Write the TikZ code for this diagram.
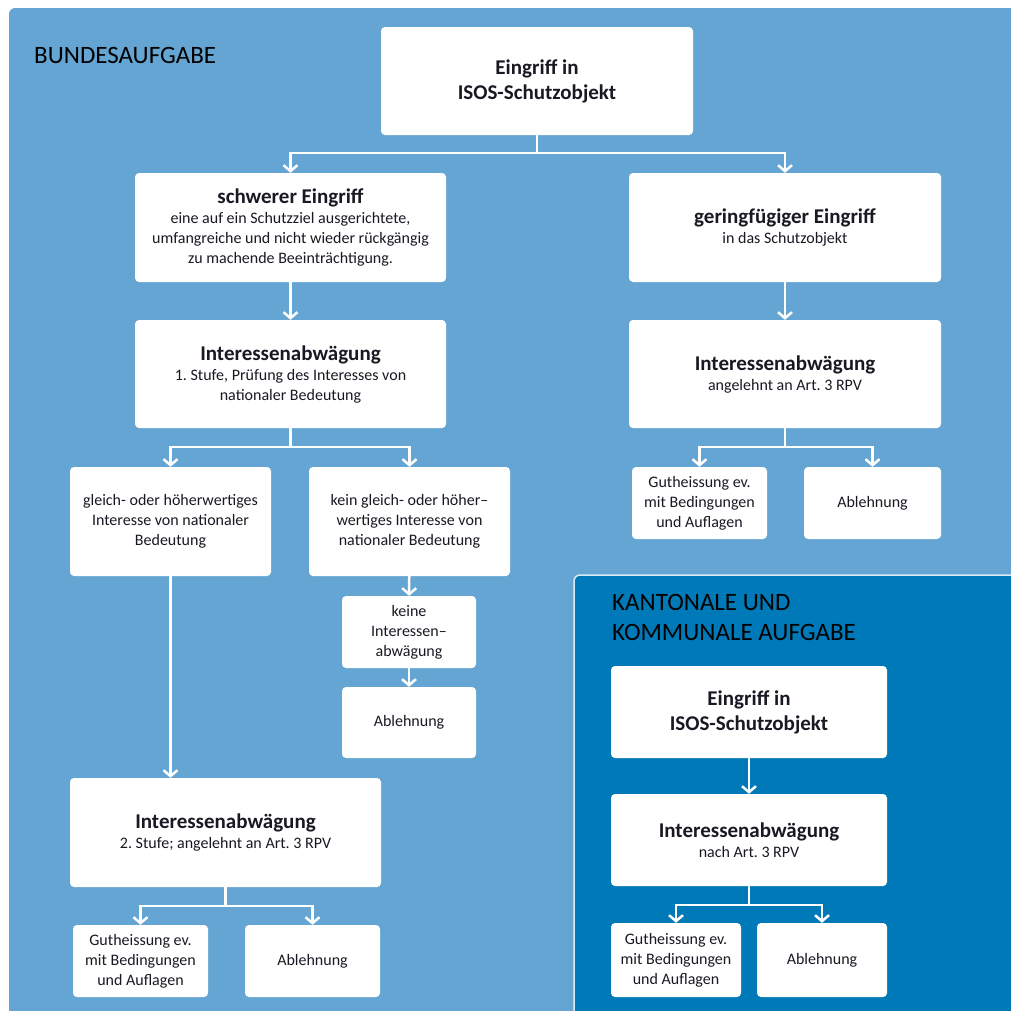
\documentclass[tikz,border=0pt]{standalone}
\usepackage{fontspec}
\setmainfont{Carlito}
\usetikzlibrary{arrows.meta}
\frenchspacing

\definecolor{bundblau}{RGB}{101,165,211}
\definecolor{kantonblau}{RGB}{0,121,184}
\definecolor{schrift}{RGB}{25,25,35}

\newcommand{\kopf}[1]{{\fontsize{21}{22}\selectfont\bfseries #1}}

\tikzset{
  box/.style={fill=white, rounded corners=4pt, align=center, inner sep=0pt,
    text=schrift, font=\fontsize{16}{20}\selectfont},
  kopfbox/.style={box, font=\fontsize{21}{25}\selectfont\bfseries},
  pfeil/.style={draw=white, line width=2.5pt,
    -{Straight Barb[length=6pt,width=14pt]}},
  ueber/.style={inner sep=0pt, align=left, text=black,
    font=\fontsize{25}{30}\selectfont}
}

\begin{document}
\begin{tikzpicture}[x=1pt, y=-1pt]
  \useasboundingbox (0,0) rectangle (1011,1010);
  \clip (0,0) rectangle (1011,1010);

  % Flaechen
  \fill [bundblau, rounded corners=6pt] (9,8) rectangle (1030,1030);
  \filldraw [fill=kantonblau, draw=white!85!kantonblau, line width=1.5pt,
    rounded corners=6pt] (574,575) rectangle (1030,1030);

  \node [ueber, anchor=base west] (bund) at (34,63) {BUNDESAUFGABE};
  \node [ueber, anchor=north west] (kanton) at (612,594) {KANTONALE UND\\KOMMUNALE AUFGABE};

  % Bund, oben
  \node [kopfbox, minimum width=312pt, minimum height=108pt] (eingriff) at (537,81)
    {Eingriff in\\ISOS-Schutzobjekt};
  \node [box, minimum width=311pt, minimum height=109pt] (schwer) at (290.5,227.5)
    {\kopf{schwerer Eingriff}\\eine auf ein Schutzziel ausgerichtete,\\umfangreiche und nicht wieder rückgängig\\zu machende Beeinträchtigung.};
  \node [box, minimum width=312pt, minimum height=109pt] (gering) at (785,227.5)
    {\kopf{geringfügiger Eingriff}\\in das Schutzobjekt};

  % Bund, links
  \node [box, minimum width=311pt, minimum height=108pt] (abw1) at (290.5,374)
    {\kopf{Interessenabwägung}\\1. Stufe, Prüfung des Interesses von\\nationaler Bedeutung};
  \node [box, minimum width=201pt, minimum height=109pt] (gleich) at (170.5,521.5)
    {gleich- oder höherwertiges\\Interesse von nationaler\\Bedeutung};
  \node [box, minimum width=201pt, minimum height=109pt] (kein) at (409.5,521.5)
    {kein gleich- oder höher–\\wertiges Interesse von\\nationaler Bedeutung};
  \node [box, minimum width=134pt, minimum height=72pt] (keine) at (409,632)
    {keine\\Interessen–\\abwägung};
  \node [box, minimum width=134pt, minimum height=71pt] (abl1) at (409,722.5)
    {Ablehnung};
  \node [box, minimum width=311pt, minimum height=109pt] (abw2) at (225.5,832.5)
    {\kopf{Interessenabwägung}\\2. Stufe; angelehnt an Art. 3 RPV};
  \node [box, minimum width=135pt, minimum height=72pt] (gut2) at (140.5,961)
    {Gutheissung ev.\\mit Bedingungen\\und Auflagen};
  \node [box, minimum width=135pt, minimum height=72pt] (abl2) at (312.5,961)
    {Ablehnung};

  % Bund, rechts
  \node [box, minimum width=312pt, minimum height=108pt] (abwr) at (785,374)
    {\kopf{Interessenabwägung}\\angelehnt an Art. 3 RPV};
  \node [box, minimum width=135pt, minimum height=72pt] (gutr) at (699.5,503)
    {Gutheissung ev.\\mit Bedingungen\\und Auflagen};
  \node [box, minimum width=137pt, minimum height=72pt] (ablr) at (872.5,503)
    {Ablehnung};

  % Kanton und Gemeinde
  \node [kopfbox, minimum width=276pt, minimum height=92pt] (keingriff) at (749,712)
    {Eingriff in\\ISOS-Schutzobjekt};
  \node [box, minimum width=276pt, minimum height=92pt] (kabw) at (749,840)
    {\kopf{Interessenabwägung}\\nach Art. 3 RPV};
  \node [box, minimum width=130pt, minimum height=74pt] (kgut) at (676,960)
    {Gutheissung ev.\\mit Bedingungen\\und Auflagen};
  \node [box, minimum width=130pt, minimum height=74pt] (kabl) at (822,960)
    {Ablehnung};

  % Pfeile
  \draw [pfeil] (eingriff.south) -- ++(0,18) -| (schwer.north);
  \draw [pfeil] (eingriff.south) -- ++(0,18) -| (gering.north);
  \draw [pfeil] (schwer) -- (abw1);
  \draw [pfeil] (abw1.south) -- ++(0,19) -| (gleich.north);
  \draw [pfeil] (abw1.south) -- ++(0,19) -| (kein.north);
  \draw [pfeil] (kein) -- (keine);
  \draw [pfeil] (keine) -- (abl1);
  \draw [pfeil] (gleich.south) -- (gleich.south |- abw2.north);
  \draw [pfeil] (abw2.south) -- ++(0,19) -| (gut2.north);
  \draw [pfeil] (abw2.south) -- ++(0,19) -| (abl2.north);
  \draw [pfeil] (gering) -- (abwr);
  \draw [pfeil] (abwr.south) -- ++(0,19) -| (gutr.north);
  \draw [pfeil] (abwr.south) -- ++(0,19) -| (ablr.north);
  \draw [pfeil] (keingriff) -- (kabw);
  \draw [pfeil] (kabw.south) -- ++(0,19) -| (kgut.north);
  \draw [pfeil] (kabw.south) -- ++(0,19) -| (kabl.north);
\end{tikzpicture}
\end{document}
